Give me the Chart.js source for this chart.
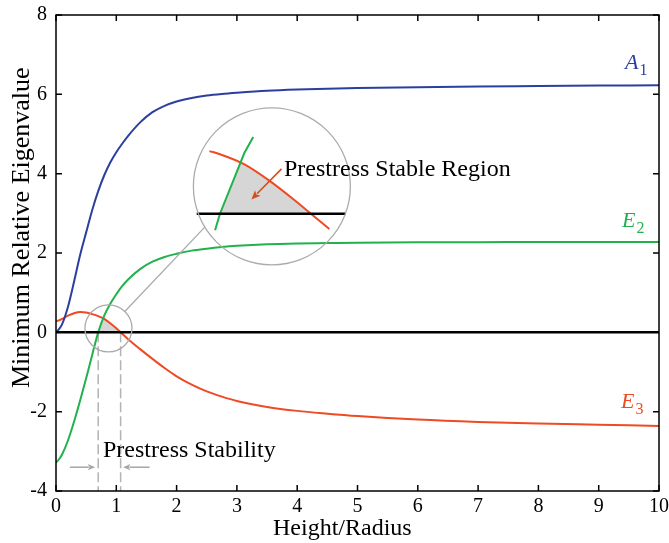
<!DOCTYPE html>
<html>
<head>
<meta charset="utf-8">
<script src="https://cdn.jsdelivr.net/npm/chart.js@4.4.0/dist/chart.umd.min.js"></script>
<style>
  html, body { margin: 0; padding: 0; background: #fff; }
  #wrap { width: 669px; height: 543px; }
</style>
</head>
<body>
<div id="wrap"><canvas id="eigChart" width="669" height="543"></canvas></div>
<script>
// Height/Radius samples shared by the three eigenvalue curves
const heightRadius = [0, 0.05, 0.1, 0.2, 0.3, 0.4, 0.5, 0.6, 0.7, 0.8, 0.9, 1.0, 1.1, 1.2, 1.4, 1.6, 1.8, 2.0, 2.25, 2.5, 2.75, 3.0, 3.5, 4.0, 4.5, 5.0, 6.0, 7.0, 8.0, 9.0, 10.0];
const eigA1 = [0, 0.08, 0.2, 0.65, 1.28, 1.95, 2.52, 3.08, 3.56, 3.96, 4.28, 4.54, 4.76, 4.96, 5.3, 5.55, 5.71, 5.82, 5.91, 5.97, 6.01, 6.04, 6.09, 6.12, 6.14, 6.16, 6.18, 6.2, 6.21, 6.22, 6.23];
const eigE2 = [-3.28, -3.2, -3.08, -2.72, -2.25, -1.72, -1.16, -0.57, 0, 0.42, 0.72, 0.96, 1.17, 1.34, 1.6, 1.78, 1.9, 1.98, 2.06, 2.11, 2.15, 2.18, 2.22, 2.24, 2.25, 2.26, 2.27, 2.27, 2.28, 2.28, 2.28];
const eigE3 = [0.28, 0.3, 0.34, 0.42, 0.48, 0.51, 0.5, 0.46, 0.41, 0.34, 0.23, 0.1, -0.04, -0.18, -0.43, -0.67, -0.9, -1.11, -1.32, -1.49, -1.62, -1.73, -1.88, -1.98, -2.05, -2.11, -2.2, -2.26, -2.3, -2.33, -2.36];

const xTicks = [0, 1, 2, 3, 4, 5, 6, 7, 8, 9, 10];
const yTicks = [-4, -2, 0, 2, 4, 6, 8];

const BLUE = '#2b3f9e', GREEN = '#22b14c', RED = '#ef4a23';
const GRAY = '#ababab', FILL = '#d6d6d6';
const SERIF = '"Liberation Serif", "DejaVu Serif", serif';

// magnified view: a spot of the stable region is redrawn bigger inside the large circle
const zoom = { srcX: 0.88, srcY: 0, dstX: 3.45, dstY: 2.99, kx: 4.06, ky: 3.66 };
const zoomPt = p => ({ x: zoom.dstX + zoom.kx * (p.x - zoom.srcX), y: zoom.dstY + zoom.ky * (p.y - zoom.srcY) });

function valueAt(ys, x) {
  for (let i = 0; i < heightRadius.length - 1; i++) {
    const a = heightRadius[i], b = heightRadius[i + 1];
    if (x >= a && x <= b) return ys[i] + (ys[i + 1] - ys[i]) * (x - a) / (b - a);
  }
  return ys[ys.length - 1];
}

// piece of a curve between x0 and x1
function windowed(ys, x0, x1) {
  const pts = [{ x: x0, y: valueAt(ys, x0) }];
  heightRadius.forEach((x, i) => { if (x > x0 && x < x1) pts.push({ x, y: ys[i] }); });
  pts.push({ x: x1, y: valueAt(ys, x1) });
  return pts;
}

// region where both E2 and E3 are positive (bounded by the lower of the two)
function stableRegion() {
  const env = [];
  for (let i = 0; i < heightRadius.length - 1; i++) {
    const xa = heightRadius[i], xb = heightRadius[i + 1];
    const da = eigE2[i] - eigE3[i], db = eigE2[i + 1] - eigE3[i + 1];
    const ts = [0];
    if (da * db < 0) ts.push(da / (da - db));
    ts.forEach(t => {
      const y2 = eigE2[i] + t * (eigE2[i + 1] - eigE2[i]);
      const y3 = eigE3[i] + t * (eigE3[i + 1] - eigE3[i]);
      env.push({ x: xa + t * (xb - xa), y: Math.min(y2, y3) });
    });
  }
  const out = [];
  for (let i = 0; i < env.length; i++) {
    const p = env[i], q = env[i + 1];
    if (p.y >= 0) out.push(p);
    if (q && (p.y < 0) !== (q.y < 0)) {
      const t = p.y / (p.y - q.y);
      out.push({ x: p.x + t * (q.x - p.x), y: 0 });
    }
  }
  return out;
}

const region = stableRegion();
const lo = region[0].x, hi = region[region.length - 1].x;

const curve = (label, ys, color) => ({
  label, data: heightRadius.map((x, i) => ({ x, y: ys[i] })),
  borderColor: color, borderWidth: 2, cubicInterpolationMode: 'monotone', order: 1
});
const plain = (data, color, width, extra) => Object.assign({
  data, borderColor: color, borderWidth: width, tension: 0, order: 1
}, extra || {});

const datasets = [
  plain([{ x: 0, y: 0 }, { x: 10, y: 0 }], '#000', 2.5),
  curve('A1', eigA1, BLUE),
  curve('E2', eigE2, GREEN),
  curve('E3', eigE3, RED),
  plain([{ x: lo, y: 0 }, { x: lo, y: -4 }], '#b3b3b3', 1.5, { borderDash: [10, 4], order: 2 }),
  plain([{ x: hi, y: 0 }, { x: hi, y: -4 }], '#b3b3b3', 1.5, { borderDash: [10, 4], order: 2 }),
  plain(region, 'rgba(0,0,0,0)', 0, { backgroundColor: FILL, fill: { value: 0 }, order: 3 }),
  // magnified copy
  plain([{ x: 0.605, y: 0 }, { x: 1.214, y: 0 }].map(zoomPt), '#000', 2.5),
  plain(windowed(eigE2, 0.68, 0.836).map(zoomPt), GREEN, 2),
  plain(windowed(eigE3, 0.657, 1.147).map(zoomPt), RED, 2, { cubicInterpolationMode: 'monotone' }),
  plain(region.map(zoomPt), 'rgba(0,0,0,0)', 0, { backgroundColor: FILL, fill: { value: zoomPt({ x: 0, y: 0 }).y }, order: 3 })
];

function arrow(ctx, x0, y0, x1, y1, color, head, width) {
  const ang = Math.atan2(y1 - y0, x1 - x0);
  ctx.strokeStyle = color; ctx.fillStyle = color; ctx.lineWidth = width;
  ctx.beginPath();
  ctx.moveTo(x0, y0);
  ctx.lineTo(x1 - Math.cos(ang) * head * 0.8, y1 - Math.sin(ang) * head * 0.8);
  ctx.stroke();
  ctx.beginPath();
  ctx.moveTo(x1, y1);
  ctx.lineTo(x1 - head * Math.cos(ang - 0.4), y1 - head * Math.sin(ang - 0.4));
  ctx.lineTo(x1 - head * 0.7 * Math.cos(ang), y1 - head * 0.7 * Math.sin(ang));
  ctx.lineTo(x1 - head * Math.cos(ang + 0.4), y1 - head * Math.sin(ang + 0.4));
  ctx.closePath();
  ctx.fill();
}

function seriesLabel(ctx, main, sub, x, y, color) {
  ctx.fillStyle = color;
  ctx.textAlign = 'left'; ctx.textBaseline = 'alphabetic';
  ctx.font = 'italic 22px ' + SERIF;
  ctx.fillText(main, x, y);
  const w = ctx.measureText(main).width;
  ctx.font = '16px ' + SERIF;
  ctx.fillText(sub, x + w + 1, y + 6);
}

const decor = {
  id: 'decor',
  afterDatasetsDraw(chart) {
    const { ctx, chartArea: a, scales: { x, y } } = chart;
    const px = v => x.getPixelForValue(v), py = v => y.getPixelForValue(v);
    ctx.save();

    // frame with inward ticks on all four sides
    ctx.strokeStyle = '#000'; ctx.lineWidth = 1.5;
    ctx.strokeRect(a.left, a.top, a.right - a.left, a.bottom - a.top);
    ctx.beginPath();
    xTicks.forEach(v => {
      const X = px(v);
      ctx.moveTo(X, a.bottom); ctx.lineTo(X, a.bottom - 6);
      ctx.moveTo(X, a.top); ctx.lineTo(X, a.top + 6);
    });
    yTicks.forEach(v => {
      const Y = py(v);
      ctx.moveTo(a.left, Y); ctx.lineTo(a.left + 6, Y);
      ctx.moveTo(a.right, Y); ctx.lineTo(a.right - 6, Y);
    });
    ctx.stroke();

    // lens circles and the connecting line
    const sX = px(0.87), sY = py(0.1), sR = 23.5;
    const bX = px(3.58), bY = py(3.68), bR = 78.5;
    ctx.strokeStyle = GRAY; ctx.lineWidth = 1.3;
    ctx.beginPath(); ctx.arc(sX, sY, sR, 0, Math.PI * 2); ctx.stroke();
    ctx.beginPath(); ctx.arc(bX, bY, bR, 0, Math.PI * 2); ctx.stroke();
    const a1 = -46 * Math.PI / 180, a2 = 148.7 * Math.PI / 180;
    ctx.beginPath();
    ctx.moveTo(sX + sR * Math.cos(a1), sY + sR * Math.sin(a1));
    ctx.lineTo(bX + bR * Math.cos(a2), bY + bR * Math.sin(a2));
    ctx.stroke();

    // stability bounds arrows
    const ay = py(-3.4);
    arrow(ctx, px(lo - 0.47), ay, px(lo - 0.05), ay, '#a6a6a6', 8, 1.5);
    arrow(ctx, px(hi + 0.48), ay, px(hi + 0.04), ay, '#a6a6a6', 8, 1.5);

    // pointer into the magnified stable region
    arrow(ctx, px(3.74), py(4.12), px(3.24), py(3.35), '#d1501a', 10, 1.6);

    ctx.fillStyle = '#000';
    ctx.textAlign = 'left'; ctx.textBaseline = 'alphabetic';
    ctx.font = '24px ' + SERIF;
    ctx.fillText('Prestress Stable Region', 284, 176);
    ctx.fillText('Prestress Stability', 103, 457);

    seriesLabel(ctx, 'A', '1', 625, 69, BLUE);
    seriesLabel(ctx, 'E', '2', 622, 227, GREEN);
    seriesLabel(ctx, 'E', '3', 621, 408, RED);

    // axis titles
    ctx.fillStyle = '#000';
    ctx.font = '24px ' + SERIF;
    ctx.fillText('Height/Radius', 273, 535);
    ctx.font = '26px ' + SERIF;
    ctx.translate(29, 388);
    ctx.rotate(-Math.PI / 2);
    ctx.fillText('Minimum Relative Eigenvalue', 0, 0);
    ctx.restore();
  }
};

const tickFont = { family: SERIF, size: 20 };

new Chart(document.getElementById('eigChart'), {
  type: 'line',
  data: { datasets },
  options: {
    responsive: false,
    animation: false,
    devicePixelRatio: 1,
    layout: { padding: { left: 0, right: 10, top: 15, bottom: 0 } },
    elements: { point: { radius: 0 } },
    plugins: { legend: { display: false }, tooltip: { enabled: false } },
    scales: {
      x: {
        type: 'linear', min: 0, max: 10,
        afterBuildTicks: s => { s.ticks = xTicks.map(v => ({ value: v })); },
        ticks: { font: tickFont, color: '#000', padding: 4, maxRotation: 0, autoSkip: false },
        grid: { display: false, drawTicks: false },
        border: { display: false },
        afterFit: s => { s.height = 52; s.paddingLeft = 0; s.paddingRight = 0; }
      },
      y: {
        type: 'linear', min: -4, max: 8,
        afterBuildTicks: s => { s.ticks = yTicks.map(v => ({ value: v })); },
        ticks: { font: tickFont, color: '#000', padding: 9 },
        grid: { display: false, drawTicks: false },
        border: { display: false },
        afterFit: s => { s.width = 56; s.paddingTop = 0; s.paddingBottom = 0; }
      }
    }
  },
  plugins: [decor]
});
</script>
</body>
</html>
